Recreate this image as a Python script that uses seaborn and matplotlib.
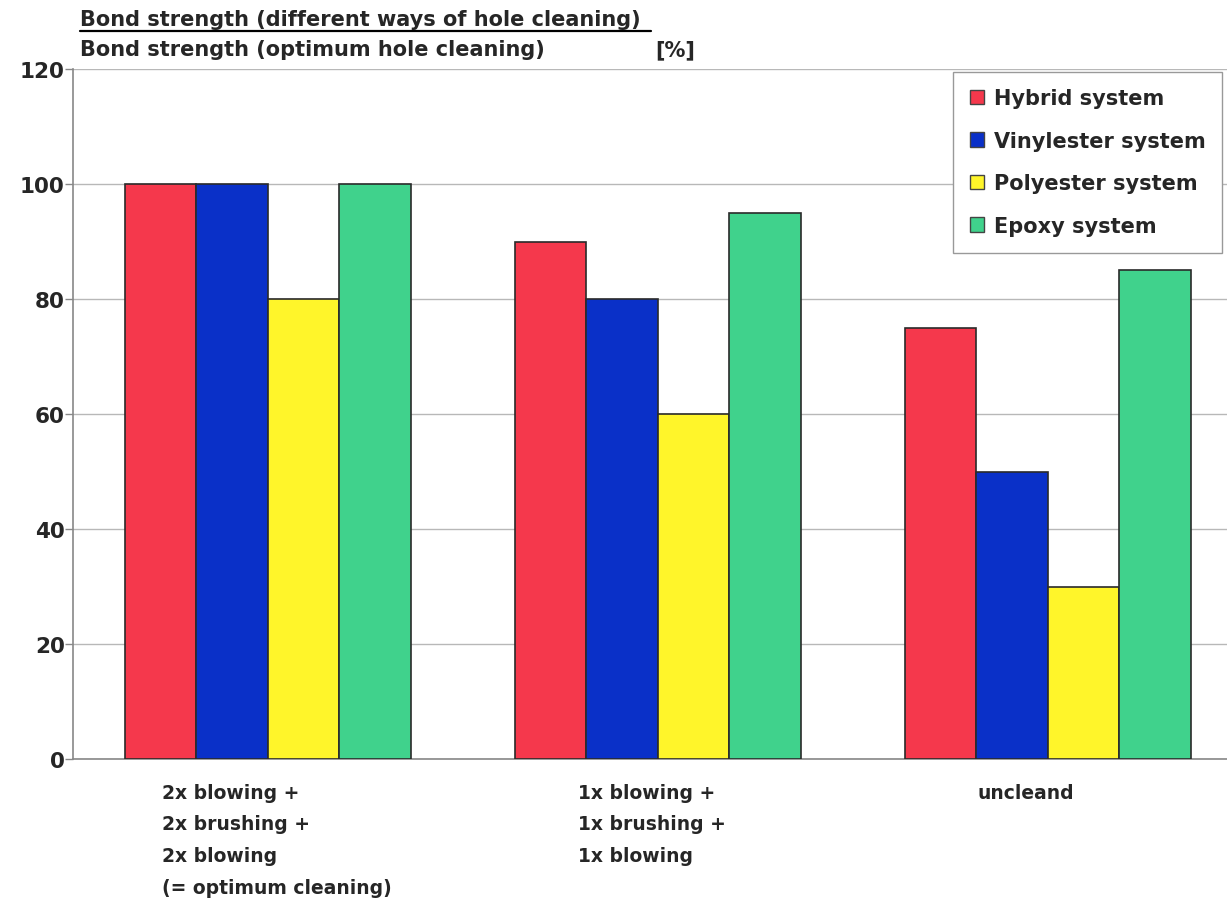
import matplotlib
matplotlib.use("Agg")
import matplotlib.pyplot as plt
import matplotlib.transforms as mtransforms
from matplotlib.lines import Line2D
import seaborn as sns
import pandas as pd

# Data
cleaning = [
    "2x blowing +\n2x brushing +\n2x blowing\n(= optimum cleaning)",
    "1x blowing +\n1x brushing +\n1x blowing",
    "uncleand",
]
systems = ["Hybrid system", "Vinylester system", "Polyester system", "Epoxy system"]
hybrid = [100, 90, 75]
vinylester = [100, 80, 50]
polyester = [80, 60, 30]
epoxy = [100, 95, 85]
palette = ["#F5384C", "#0A30C8", "#FFF52A", "#40D28C"]

rows = []
for sys_name, vals in zip(systems, [hybrid, vinylester, polyester, epoxy]):
    for c, v in zip(cleaning, vals):
        rows.append({"cleaning": c, "system": sys_name, "value": v})
df = pd.DataFrame(rows)

sns.set_theme(style="white")
plt.rcParams["font.family"] = ["DejaVu Sans"]
plt.rcParams["font.weight"] = "bold"

W, H = 1227, 903
fig = plt.figure(figsize=(W / 100, H / 100), dpi=100)
ax = fig.add_axes([73 / W, (H - 760) / H, (W - 73) / W, 690 / H])

sns.barplot(data=df, x="cleaning", y="value", hue="system", order=cleaning,
            hue_order=systems, palette=palette, width=0.733, gap=0,
            edgecolor="#2a2a2a", linewidth=1.2, saturation=1, ax=ax, zorder=3)

ax.set_ylim(0, 120)
ax.set_xlim(-0.5, 2.46)
ax.set_yticks(range(0, 121, 20))
ax.set_yticklabels([str(v) for v in range(0, 121, 20)], fontsize=15.5, fontweight="bold")
ax.yaxis.grid(True, color="#b8b8b8", linewidth=1.0, zorder=0)
ax.set_axisbelow(True)
ax.set_xlabel("")
ax.set_ylabel("")

ax.tick_params(axis="y", length=6, width=1, color="#888888", pad=0, left=True)
ax.tick_params(axis="x", length=0, pad=17)
for s in ["top", "right"]:
    ax.spines[s].set_visible(False)
for s in ["left", "bottom"]:
    ax.spines[s].set_color("#888888")
    ax.spines[s].set_linewidth(1.2)

ax.set_xticks(range(len(cleaning)))
ax.set_xticklabels(cleaning, fontsize=13.5, fontweight="bold",
                   multialignment="left", linespacing=1.85, va="top")
# nudge each category caption horizontally (pixels)
for lbl, dx in zip(ax.get_xticklabels(), [9, -6, -22]):
    lbl.set_transform(lbl.get_transform() +
                      mtransforms.ScaledTranslation(dx / 100, 0, fig.dpi_scale_trans))

leg = ax.legend(loc="upper right", bbox_to_anchor=(1149 / 1154, 0.996), fontsize=15,
                frameon=True, fancybox=False, edgecolor="#999999", framealpha=1,
                handlelength=0.7, handleheight=0.7, handletextpad=0.45,
                labelspacing=1.08, borderpad=0.8, borderaxespad=0)
leg.get_frame().set_linewidth(1.0)
leg.set_zorder(10)
for t in leg.get_texts():
    t.set_fontweight("bold")
for hnd in leg.legend_handles:
    hnd.set_edgecolor("#444444")
    hnd.set_linewidth(1.0)

# Axis caption: ratio of bond strengths
cap_size = 15
t1 = fig.text(80 / W, 1 - 20 / H, "Bond strength (different ways of hole cleaning)",
              fontsize=cap_size, fontweight="bold", va="center", ha="left")
fig.text(80 / W, 1 - 50 / H, "Bond strength (optimum hole cleaning)",
         fontsize=cap_size, fontweight="bold", va="center", ha="left")
fig.text(655 / W, 1 - 50 / H, "[%]", fontsize=cap_size, fontweight="bold",
         va="center", ha="left")

fig.canvas.draw()
bb = t1.get_window_extent()
y_line = (bb.y0 - 2) / H
fig.add_artist(Line2D([bb.x0 / W, (bb.x1 + 10) / W], [y_line, y_line],
                      color="black", linewidth=1.6, transform=fig.transFigure))

fig.savefig("out.png", dpi=100)
